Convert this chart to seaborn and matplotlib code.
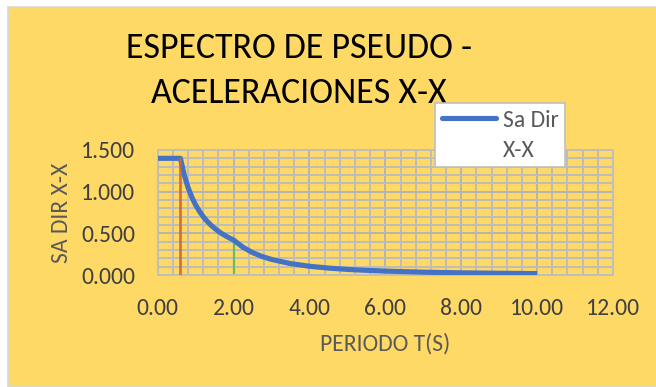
import matplotlib
matplotlib.use("Agg")
import matplotlib.pyplot as plt
import matplotlib.font_manager as fm
from matplotlib.patches import Rectangle
from matplotlib.lines import Line2D
from matplotlib.ticker import MultipleLocator, FormatStrFormatter
import seaborn as sns
import pandas as pd

# ---- data ----
periodo = [0.0, 0.1, 0.2, 0.3, 0.4, 0.5, 0.6, 0.7, 0.8, 0.9, 1.0, 1.1, 1.2, 1.3,
           1.4, 1.5, 1.6, 1.7, 1.8, 1.9, 2.0, 2.25, 2.5, 2.75, 3.0, 3.5, 4.0,
           4.5, 5.0, 5.5, 6.0, 7.0, 8.0, 9.0, 10.0]
sa_dir_xx = [1.400, 1.400, 1.400, 1.400, 1.400, 1.400, 1.400, 1.200, 1.050, 0.933,
             0.840, 0.764, 0.700, 0.646, 0.600, 0.560, 0.525, 0.494, 0.467, 0.442,
             0.420, 0.332, 0.269, 0.222, 0.187, 0.137, 0.105, 0.083, 0.067, 0.056,
             0.047, 0.034, 0.026, 0.021, 0.017]
tp_line_x = [0.6, 0.6]
tp_line_y = [0.0, 1.4]
tl_line_x = [2.0, 2.0]
tl_line_y = [0.0, 0.42]
series_label = ["Sa Dir", "X-X"]
title_lines = ["ESPECTRO DE PSEUDO -", "ACELERACIONES X-X"]
x_title = "PERIODO T(S)"
y_title = "SA DIR X-X"

df = pd.DataFrame({"T": periodo, "Sa": sa_dir_xx})

sns.set_theme(style="white")
available = {f.name for f in fm.fontManager.ttflist}
def pick(*names):
    for n in names:
        if n in available:
            return n
    return "DejaVu Sans"
body_font = pick("Carlito", "Lato", "Open Sans", "DejaVu Sans")
plt.rcParams["font.family"] = [body_font, "DejaVu Sans"]

W, H = 656, 387
fig = plt.figure(figsize=(W / 100, H / 100), dpi=100, facecolor="white")
yellow = "#FFD966"
fig.patches.append(Rectangle((8 / W, 0), 1 - 8 / W, 1 - 7 / H, transform=fig.transFigure,
                             facecolor=yellow, edgecolor="#D5D8DE", lw=1.2, zorder=-10))

ax = fig.add_axes([157.7 / W, 1 - 275 / H, (613 - 157.7) / W, (275 - 150) / H])
ax.set_facecolor(yellow)

sns.lineplot(data=df, x="T", y="Sa", ax=ax, color="#4472C4", lw=3.7, zorder=3,
             solid_capstyle="butt")
ax.plot(tl_line_x, tl_line_y, color="#62BD66", lw=1.6, zorder=2)
ax.plot(tp_line_x, tp_line_y, color="#D65F2B", lw=2.0, zorder=4, alpha=0.85)

ax.set_xlim(0, 12)
ax.set_ylim(0, 1.5)
ax.xaxis.set_major_locator(MultipleLocator(2))
ax.xaxis.set_minor_locator(MultipleLocator(0.4))
ax.yaxis.set_major_locator(MultipleLocator(0.5))
ax.yaxis.set_minor_locator(MultipleLocator(0.1))
ax.xaxis.set_major_formatter(FormatStrFormatter("%.2f"))
ax.yaxis.set_major_formatter(FormatStrFormatter("%.3f"))
ax.grid(which="major", color="#B4B4B4", lw=1.4)
ax.grid(which="minor", color="#BDBDBD", lw=1.4)
ax.set_axisbelow(True)
for s in ax.spines.values():
    s.set_color("#BFBFBF")
    s.set_linewidth(1.4)
ax.tick_params(which="both", length=0)
ax.tick_params(axis="x", pad=16.5, labelsize=17, labelcolor="#404040")
ax.tick_params(axis="y", pad=16.3, labelsize=17, labelcolor="#404040")
ax.set_xlabel(x_title, fontsize=17, color="#595959", labelpad=10)
ax.set_ylabel(y_title, fontsize=17, color="#595959", labelpad=6.5)

fig.text(299 / W, 1 - 58.3 / H, title_lines[0], ha="center", va="baseline",
         fontsize=25.8, color="black")
fig.text(299 / W, 1 - 103 / H, title_lines[1], ha="center", va="baseline",
         fontsize=25.8, color="black")

line_handle = Line2D([], [], color="#4472C4", lw=3.7)
blank_handle = Line2D([], [], color="none")
leg = fig.legend([line_handle, blank_handle], series_label, loc="upper left",
                 bbox_to_anchor=(435 / W, 1 - 103 / H), bbox_transform=fig.transFigure,
                 borderaxespad=0, fontsize=17, frameon=True, fancybox=False,
                 handlelength=2.3, handletextpad=0.3, borderpad=0.28,
                 labelspacing=0.38, labelcolor="#595959")
leg.get_frame().set_edgecolor("#BFBFBF")
leg.get_frame().set_linewidth(1.2)
leg.get_frame().set_facecolor("white")
leg.get_frame().set_alpha(1)

fig.savefig("out.png", dpi=100, facecolor="white")
